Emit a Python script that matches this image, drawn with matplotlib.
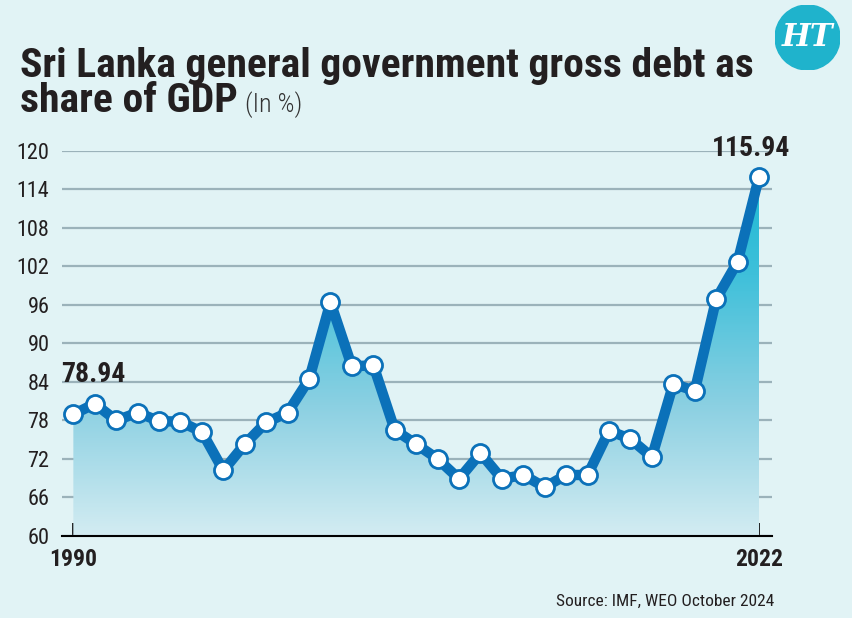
import numpy as np
import matplotlib
matplotlib.use("Agg")
import matplotlib.pyplot as plt
from matplotlib import font_manager
from matplotlib.colors import LinearSegmentedColormap
from matplotlib.patches import Circle

# data
years = list(range(1990, 2023))
debt = [78.94, 80.6, 78.0, 79.2, 77.9, 77.8, 76.2, 70.2, 74.3, 77.7,
        79.2, 84.4, 96.4, 86.4, 86.6, 76.5, 74.3, 72.0, 68.9, 72.9,
        68.9, 69.5, 67.6, 69.5, 69.5, 76.4, 75.1, 72.3, 83.7, 82.6,
        96.9, 102.7, 115.94]
yticks = [60, 66, 72, 78, 84, 90, 96, 102, 108, 114, 120]
xlabels = {1990: "1990", 2022: "2022"}

title = "Sri Lanka general government gross debt as"
title2 = "share of GDP"
unit = "(In %)"
source = "Source: IMF, WEO October 2024"

bg = "#e1f3f5"
blue = "#0b71b9"
ink = "#231f20"

# pick a narrow face if one is installed
names = {f.name for f in font_manager.fontManager.ttflist}
narrow = "DejaVu Sans"
for n in ["Roboto Condensed", "Liberation Sans Narrow", "DejaVu Sans Condensed",
          "Open Sans Condensed", "Noto Sans Condensed"]:
    if n in names:
        narrow = n
        break
stretch = "normal" if narrow != "DejaVu Sans" else "condensed"
fam = [narrow, "DejaVu Sans"]

W, H = 852, 618
fig = plt.figure(figsize=(W / 100, H / 100), dpi=100, facecolor=bg)

ax = fig.add_axes([62 / W, (H - 536) / H, (771.7 - 62) / W, (536 - 150.7) / H])
ax.set_facecolor(bg)

# gradient area under the line
poly = ax.fill_between(years, debt, 60, color="none", lw=0)
cmap = LinearSegmentedColormap.from_list(
    "area", [(0, "#d3ecf2"), (0.35, "#8bd0e2"), (0.7, "#3fc0da"), (1, "#18b8d3")])
grad = np.linspace(0, 1, 256).reshape(-1, 1)
im = ax.imshow(grad, cmap=cmap, aspect="auto", origin="lower",
               extent=[years[0], years[-1], 60, 118], zorder=1)
im.set_clip_path(poly.get_paths()[0], transform=ax.transData)

ax.plot(years, debt, color=blue, lw=7.5, solid_joinstyle="round", zorder=3,
        marker="o", ms=13, mfc="white", mec=blue, mew=2, clip_on=False)

ax.set_xlim(1989.47, 2022.59)
ax.set_ylim(60, 120)

ax.set_yticks(yticks)
ax.set_yticklabels([str(t) for t in yticks])
ax.yaxis.grid(True, color="#9bb2ba", lw=1.6, zorder=0)
ax.set_axisbelow(True)
ax.tick_params(axis="y", length=0, pad=9, labelsize=16, labelcolor=ink)
for lab in ax.get_yticklabels():
    lab.set_family(fam)
    lab.set_fontstretch(stretch)

ax.set_xticks(years)
ax.set_xticklabels([xlabels.get(y, "") for y in years])
ax.tick_params(axis="x", direction="in", length=9.5, width=1.2, color="black",
               pad=9, labelsize=17, labelcolor=ink)
for lab in ax.get_xticklabels():
    lab.set_family(fam)
    lab.set_fontweight("heavy")
    lab.set_fontstretch(stretch)

for s in ["top", "right", "left"]:
    ax.spines[s].set_visible(False)
ax.spines["bottom"].set_color("black")
ax.spines["bottom"].set_linewidth(1.5)
ax.spines["bottom"].set_zorder(4)

ax.text(1990.92, 85.1, "78.94", ha="center", va="center", fontsize=20,
        fontweight="heavy", color=ink, family=fam, fontstretch=stretch)
ax.text(2021.62, 120.4, "115.94", ha="center", va="center", fontsize=20,
        fontweight="heavy", color=ink, family=fam, fontstretch=stretch,
        clip_on=False)

# title, scaled to the reference width
r = fig.canvas.get_renderer()
t1 = fig.text(20 / W, (H - 77) / H, title, fontsize=25, fontweight="black",
              color=ink, family=fam, fontstretch=stretch, va="baseline")
w = t1.get_window_extent(r).width
t1.set_fontsize(25 * 732 / w)
t2 = fig.text(20 / W, (H - 112.5) / H, title2, fontsize=25 * 732 / w,
              fontweight="black", color=ink, family=fam,
              fontstretch=stretch, va="baseline")
x_end = t2.get_window_extent(r).x1
fig.text((x_end + 7) / W, (H - 112.5) / H, unit, fontsize=19, color="#333333",
         fontweight="light", family=fam, fontstretch=stretch, va="baseline")

fig.text(774 / W, (H - 606) / H, source, ha="right", va="baseline",
         fontsize=12.5, color=ink, family=fam, fontstretch=stretch)

# HT logo
lax = fig.add_axes([775 / W, (H - 70) / H, 65 / W, 65 / H])
lax.set_xlim(0, 1)
lax.set_ylim(0, 1)
lax.axis("off")
lax.add_patch(Circle((0.5, 0.5), 0.5, color="#1fb3cc"))
lax.text(0.5, 0.5, "HT", ha="center", va="center", color="white",
         fontsize=22, fontweight="bold", style="italic", family="DejaVu Serif")

fig.savefig("out.png", dpi=100, facecolor=bg)
